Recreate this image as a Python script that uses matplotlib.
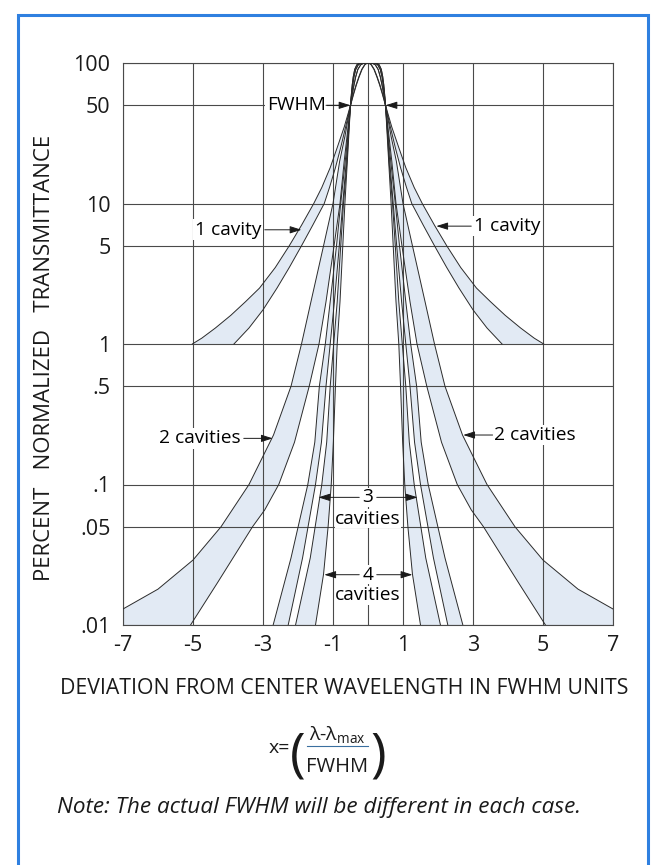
import numpy as np
import matplotlib.pyplot as plt
from matplotlib.patches import Rectangle
from matplotlib.lines import Line2D
from matplotlib.ticker import FixedLocator, NullLocator

plt.rcParams['font.family'] = ['Open Sans', 'DejaVu Sans']
plt.rcParams['mathtext.fontset'] = 'custom'
plt.rcParams['mathtext.rm'] = 'Open Sans'

# half-widths (FWHM units) at given transmittance levels (%)
# 1 cavity
t_c1_outer = [100, 99.5, 97, 90, 80, 70, 60, 50, 35, 25, 18, 13, 10, 7, 5, 3.5, 2.5, 2, 1.6, 1.3, 1.1, 1]
x_c1_outer = [0, 0.035, 0.09, 0.17, 0.25, 0.33, 0.41, 0.5, 0.68, 0.88, 1.08, 1.32, 1.55, 1.9, 2.25, 2.65, 3.1, 3.5, 3.92, 4.36, 4.75, 5.02]
t_c1_inner = [100, 99.5, 97, 90, 80, 70, 60, 50, 35, 25, 18, 13, 10, 7, 5, 3.5, 2.5, 1.75, 1.3, 1]
x_c1_inner = [0, 0.04, 0.1, 0.18, 0.26, 0.34, 0.42, 0.5, 0.64, 0.78, 0.93, 1.1, 1.25, 1.58, 1.9, 2.25, 2.6, 3.0, 3.4, 3.83]
# 2 cavities
t_c2_outer = [100, 99.5, 97, 90, 80, 70, 60, 50, 30, 20, 10, 5, 2, 1, 0.5, 0.225, 0.15, 0.1, 0.05, 0.029, 0.018, 0.013]
x_c2_outer = [0, 0.13, 0.21, 0.29, 0.35, 0.4, 0.45, 0.5, 0.66, 0.81, 1.0, 1.27, 1.63, 1.9, 2.2, 2.7, 3.05, 3.4, 4.2, 5.0, 6.0, 7.0]
t_c2_inner = [100, 99.5, 97, 90, 80, 70, 60, 50, 30, 20, 10, 5, 2, 1, 0.5, 0.2, 0.1, 0.066, 0.05, 0.02, 0.01]
x_c2_inner = [0, 0.13, 0.21, 0.29, 0.35, 0.4, 0.45, 0.5, 0.6, 0.68, 0.8, 0.97, 1.2, 1.4, 1.68, 2.1, 2.55, 2.95, 3.3, 4.3, 5.07]
# 3 cavities
t_c3_outer = [100, 99.5, 97, 90, 80, 70, 60, 50, 30, 20, 10, 5, 2, 1, 0.5, 0.2, 0.1, 0.03, 0.01]
x_c3_outer = [0, 0.21, 0.28, 0.35, 0.4, 0.435, 0.467, 0.5, 0.58, 0.65, 0.78, 0.9, 1.08, 1.22, 1.39, 1.52, 1.72, 2.2, 2.71]
t_c3_inner = [100, 99.5, 97, 90, 80, 70, 60, 50, 30, 20, 10, 5, 2, 1, 0.5, 0.2, 0.1, 0.03, 0.01]
x_c3_inner = [0, 0.21, 0.28, 0.35, 0.4, 0.435, 0.467, 0.5, 0.57, 0.62, 0.72, 0.82, 0.96, 1.08, 1.2, 1.33, 1.5, 1.87, 2.28]
# 4 cavities
t_c4_outer = [100, 99.5, 97, 90, 80, 70, 60, 50, 30, 20, 10, 5, 2, 1, 0.5, 0.2, 0.1, 0.03, 0.01]
x_c4_outer = [0, 0.26, 0.32, 0.38, 0.42, 0.45, 0.475, 0.5, 0.56, 0.6, 0.7, 0.78, 0.88, 0.98, 1.08, 1.18, 1.32, 1.65, 2.07]
t_c4_inner = [100, 99.5, 97, 90, 80, 70, 60, 50, 30, 20, 10, 5, 2, 1, 0.5, 0.2, 0.1, 0.05, 0.023, 0.01]
x_c4_inner = [0, 0.26, 0.32, 0.38, 0.42, 0.45, 0.475, 0.5, 0.55, 0.59, 0.66, 0.72, 0.8, 0.88, 0.93, 0.99, 1.05, 1.14, 1.27, 1.5]

bands = [
    (t_c1_outer, x_c1_outer, t_c1_inner, x_c1_inner, False),
    (t_c2_outer, x_c2_outer, t_c2_inner, x_c2_inner, True),
    (t_c3_outer, x_c3_outer, t_c3_inner, x_c3_inner, False),
    (t_c4_outer, x_c4_outer, t_c4_inner, x_c4_inner, False),
]

x_ticks = [-7, -5, -3, -1, 0, 1, 3, 5, 7]
x_tick_labels = ['-7', '-5', '-3', '-1', '', '1', '3', '5', '7']
y_ticks = [0.01, 0.05, 0.1, 0.5, 1, 5, 10, 50, 100]
y_tick_labels = ['.01', '.05', '.1', '.5', '1', '5', '10', '50', '100']
XLIM = (-7, 7)
YLIM = (0.01, 100)

band_color = '#e2eaf4'
line_color = '#2b2b2b'
grid_color = '#4a4a4a'
text_color = '#1a1a1a'

W, H = 658, 865
def fx(px):
    return px / W
def fy(py):
    return 1 - py / H

fig = plt.figure(figsize=(W / 100, H / 100), dpi=100)
fig.patch.set_facecolor('white')
ax = fig.add_axes([fx(123), fy(625), (613 - 123) / W, (625 - 63) / H])
ax.set_yscale('log')
ax.set_xlim(*XLIM)
ax.set_ylim(*YLIM)

for side in (-1, 1):
    for t_o, x_o, t_i, x_i, corner in bands:
        xo = side * np.array(x_o)
        xi = side * np.array(x_i)
        px = list(xo)
        py = list(t_o)
        if corner:
            px.append(side * XLIM[1])
            py.append(YLIM[0])
        px += list(xi[::-1])
        py += list(t_i[::-1])
        ax.fill(px, py, color=band_color, lw=0, zorder=1)
        ax.plot(xo, t_o, color=line_color, lw=0.7, zorder=3)
        ax.plot(xi, t_i, color=line_color, lw=0.7, zorder=3)

ax.xaxis.set_major_locator(FixedLocator(x_ticks))
ax.set_xticklabels(x_tick_labels)
ax.yaxis.set_major_locator(FixedLocator(y_ticks))
ax.yaxis.set_minor_locator(NullLocator())
ax.set_yticklabels(y_tick_labels)
ax.tick_params(length=0, labelsize=15.5, colors=text_color)
ax.tick_params(axis='y', pad=9)
ax.tick_params(axis='x', pad=7)
ax.grid(True, color=grid_color, lw=0.8, zorder=2)
ax.set_axisbelow(False)
for s in ax.spines.values():
    s.set_color(grid_color)
    s.set_linewidth(0.8)

arrow = dict(arrowstyle='-|>,head_length=0.7,head_width=0.22', color=text_color,
             lw=0.7, shrinkA=0, shrinkB=0)
fs = 13.8
box = dict(fc='white', ec='none', pad=1.0)
sbox = dict(fc='white', ec='none', pad=0.3)

# FWHM
ax.text(-2.05, 50, 'FWHM', ha='center', va='center', fontsize=fs, bbox=box, zorder=5)
ax.annotate('', xy=(-0.5, 50), xytext=(-1.2, 50), arrowprops=arrow, zorder=5)
ax.annotate('', xy=(0.5, 50), xytext=(1.0, 50), arrowprops=arrow, zorder=5)

# 1 cavity
ax.text(-4.0, 6.5, '1 cavity', ha='center', va='center', fontsize=fs, bbox=box, zorder=5)
ax.annotate('', xy=(-1.9, 6.5), xytext=(-2.95, 6.5), arrowprops=arrow, zorder=5)
ax.text(3.97, 6.9, '1 cavity', ha='center', va='center', fontsize=fs, bbox=box, zorder=5)
ax.annotate('', xy=(1.95, 6.9), xytext=(2.95, 6.9), arrowprops=arrow, zorder=5)

# 2 cavities
ax.text(-4.8, 0.213, '2 cavities', ha='center', va='center', fontsize=fs, bbox=box, zorder=5)
ax.annotate('', xy=(-2.72, 0.213), xytext=(-3.55, 0.213), arrowprops=arrow, zorder=5)
ax.text(4.76, 0.225, '2 cavities', ha='center', va='center', fontsize=fs, bbox=box, zorder=5)
ax.annotate('', xy=(2.72, 0.225), xytext=(3.56, 0.225), arrowprops=arrow, zorder=5)

# 3 cavities
ax.text(0, 0.081, '3', ha='center', va='center', fontsize=fs, bbox=sbox, zorder=5)
ax.text(0, 0.057, 'cavities', ha='center', va='center', fontsize=fs, bbox=sbox, zorder=5)
ax.annotate('', xy=(-1.42, 0.081), xytext=(-0.25, 0.081), arrowprops=arrow, zorder=5)
ax.annotate('', xy=(1.42, 0.081), xytext=(0.25, 0.081), arrowprops=arrow, zorder=5)

# 4 cavities
ax.text(0, 0.0228, '4', ha='center', va='center', fontsize=fs, bbox=sbox, zorder=5)
ax.text(0, 0.0163, 'cavities', ha='center', va='center', fontsize=fs, bbox=sbox, zorder=5)
ax.annotate('', xy=(-1.25, 0.0228), xytext=(-0.25, 0.0228), arrowprops=arrow, zorder=5)
ax.annotate('', xy=(1.27, 0.0228), xytext=(0.25, 0.0228), arrowprops=arrow, zorder=5)

# axis titles and notes
fig.text(fx(45), fy(358), 'PERCENT   NORMALIZED   TRANSMITTANCE', rotation=90,
         ha='center', va='center', fontsize=16, color=text_color)
fig.text(fx(344), fy(688), 'DEVIATION FROM CENTER WAVELENGTH IN FWHM UNITS',
         ha='center', va='center', fontsize=15.3, color=text_color)
fig.text(fx(279), fy(748), 'x=', ha='center', va='center', fontsize=14, color=text_color)
fig.text(fx(298), fy(757), '(', ha='center', va='center', fontsize=38, color=text_color)
fig.text(fx(337), fy(735), r'λ-λ$_{\mathrm{max}}$', ha='center', va='center', fontsize=14, color=text_color)
fig.add_artist(Line2D([fx(307), fx(368)], [fy(746), fy(746)], color='#3a6fa0', lw=0.8))
fig.text(fx(337), fy(767), 'FWHM', ha='center', va='center', fontsize=14.5, color=text_color)
fig.text(fx(378), fy(757), ')', ha='center', va='center', fontsize=38, color=text_color)
fig.text(fx(57), fy(808), 'Note: The actual FWHM will be different in each case.',
         ha='left', va='center', fontsize=16.2, style='italic', color=text_color)

# blue frame
fig.add_artist(Rectangle((fx(18), -0.02), fx(648) - fx(18), fy(15) + 0.02,
                         transform=fig.transFigure, fill=False, ec='#2f80e0', lw=2.2))

fig.savefig('out.png', dpi=100)
